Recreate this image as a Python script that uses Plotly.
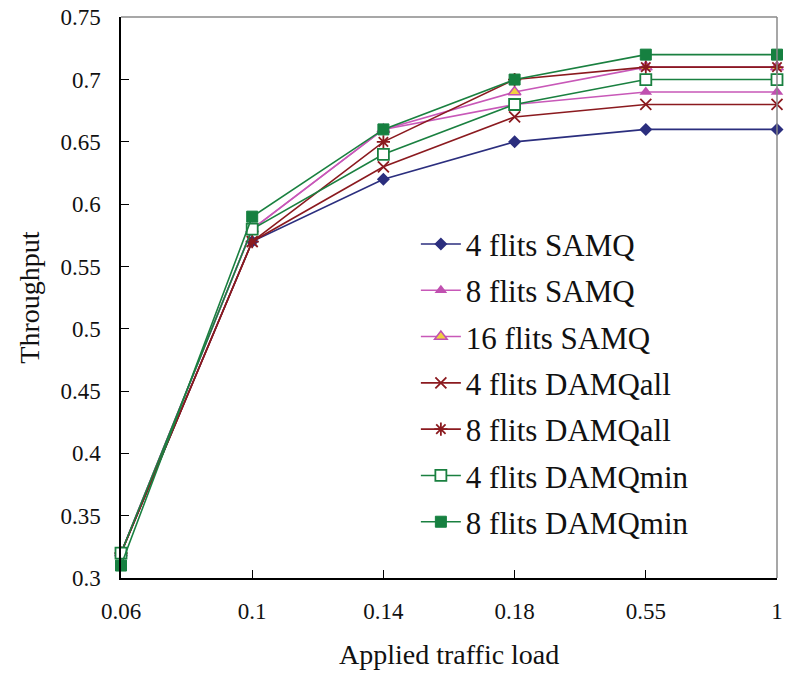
import plotly.graph_objects as go

categories = ["0.06", "0.1", "0.14", "0.18", "0.55", "1"]

samq4 = [0.32, 0.57, 0.62, 0.65, 0.66, 0.66]
samq8 = [0.32, 0.58, 0.66, 0.68, 0.69, 0.69]
samq16 = [0.32, 0.58, 0.66, 0.69, 0.71, 0.71]
damqall4 = [0.32, 0.57, 0.63, 0.67, 0.68, 0.68]
damqall8 = [0.32, 0.57, 0.65, 0.70, 0.71, 0.71]
damqmin4 = [0.32, 0.58, 0.64, 0.68, 0.70, 0.70]
damqmin8 = [0.31, 0.59, 0.66, 0.70, 0.72, 0.72]

ytick_vals = [0.3, 0.35, 0.4, 0.45, 0.5, 0.55, 0.6, 0.65, 0.7, 0.75]
ytick_text = ["0.3", "0.35", "0.4", "0.45", "0.5", "0.55", "0.6", "0.65", "0.7", "0.75"]

series = [
    ("4 flits SAMQ", samq4, "#2B2E7E", dict(symbol="diamond", size=10, color="#2B2E7E")),
    ("8 flits SAMQ", samq8, "#C858B8", dict(symbol="triangle-up", size=11, color="#C050B0")),
    ("16 flits SAMQ", samq16, "#C858B8", dict(symbol="triangle-up", size=11, color="#F0D040",
                                               line=dict(color="#C050B0", width=1.5))),
    ("4 flits DAMQall", damqall4, "#8B1A1F", dict(symbol="x-thin", size=11, color="#8B1A1F",
                                                  line=dict(color="#8B1A1F", width=1.8))),
    ("8 flits DAMQall", damqall8, "#8B1A1F", dict(symbol="asterisk", size=11, color="#8B1A1F",
                                                  line=dict(color="#8B1A1F", width=1.8))),
    ("4 flits DAMQmin", damqmin4, "#1A8040", dict(symbol="square", size=11, color="white",
                                                  line=dict(color="#1A8040", width=1.8))),
    ("8 flits DAMQmin", damqmin8, "#1A8040", dict(symbol="square", size=11, color="#168040",
                                                  line=dict(color="#168040", width=1))),
]

fig = go.Figure()
for i, (name, vals, lc, mk) in enumerate(series):
    fig.add_trace(go.Scatter(
        x=categories, y=vals, name=name, mode="lines+markers",
        line=dict(color=lc, width=1.6), marker=mk, cliponaxis=False,
        legendgroup="g%d" % i,
    ))

fig.update_layout(
    width=788, height=675,
    margin=dict(l=121, r=5, t=15, b=97),
    paper_bgcolor="white", plot_bgcolor="white",
    font=dict(family="Liberation Serif, Times New Roman, serif", color="#111111", size=23),
    showlegend=True,
    legend=dict(
        x=0.4495, y=0.643, xanchor="left", yanchor="top",
        bgcolor="rgba(0,0,0,0)", font=dict(size=31), tracegroupgap=3,
        itemwidth=40,
    ),
    xaxis=dict(
        type="category", categoryorder="array", categoryarray=categories,
        range=[0, 5], showgrid=False, zeroline=False,
        showline=True, linecolor="black", linewidth=1.5,
        ticks="inside", ticklen=8, tickcolor="black",
        ticklabelstandoff=12, tickfont=dict(size=23),
    ),
    yaxis=dict(
        range=[0.3, 0.7502],
        showgrid=False, zeroline=False,
        showline=True, linecolor="black", linewidth=1.5,
        ticks="inside", ticklen=8, tickcolor="black",
        ticklabelstandoff=14, tickfont=dict(size=23),
        tickvals=ytick_vals, ticktext=ytick_text,
        ticklabeloverflow="allow",
    ),
    shapes=[
        dict(type="line", xref="paper", yref="paper", x0=0, x1=1, y0=1, y1=1,
             line=dict(color="#8a8a8a", width=1.5)),
        dict(type="line", xref="paper", yref="paper", x0=1, x1=1, y0=0, y1=1,
             line=dict(color="#8a8a8a", width=1.5)),
    ],
    annotations=[
        dict(text="Applied traffic load", xref="paper", yref="paper", x=0.5, y=-0.137,
             xanchor="center", yanchor="middle", showarrow=False, font=dict(size=28)),
        dict(text="Throughput", xref="paper", yref="paper", x=-0.140, y=0.5,
             xanchor="center", yanchor="middle", textangle=-90, showarrow=False,
             font=dict(size=28)),
    ],
)

fig.write_html("out.html", config={"displayModeBar": False},
               post_script="document.body.style.margin='0';")
